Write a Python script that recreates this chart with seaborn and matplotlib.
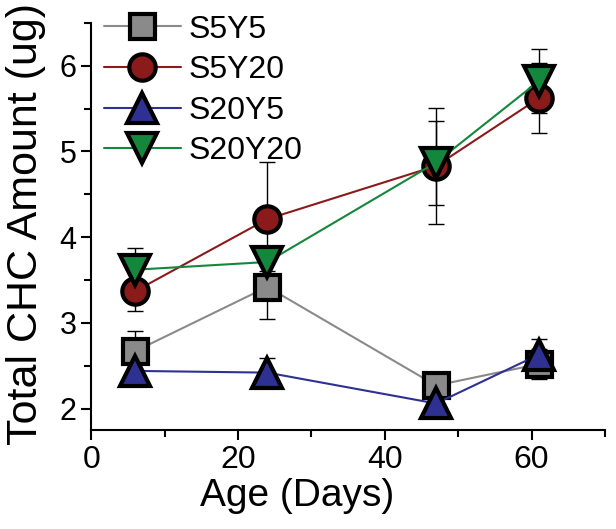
import matplotlib
matplotlib.use("Agg")
import matplotlib.pyplot as plt
from matplotlib.ticker import MultipleLocator
import seaborn as sns

days = [6, 24, 47, 61]
groups = ["S5Y5", "S5Y20", "S20Y5", "S20Y20"]
s5y5 = [2.67, 3.42, 2.27, 2.52]
s5y20 = [3.37, 4.21, 4.83, 5.62]
s20y5 = [2.44, 2.42, 2.06, 2.63]
s20y20 = [3.62, 3.71, 4.87, 5.82]
s5y5_err = [0.24, 0.37, 0.05, 0.18]
s5y20_err = [0.23, 0.67, 0.68, 0.41]
s20y5_err = [0.16, 0.17, 0.10, 0.18]
s20y20_err = [0.25, 0.10, 0.49, 0.37]

series = [s5y5, s5y20, s20y5, s20y20]
errors = [s5y5_err, s5y20_err, s20y5_err, s20y20_err]
colors = ["#8a8a8a", "#8b1a1a", "#2e3192", "#14873c"]
markers = ["s", "o", "^", "v"]
sizes = [18, 19, 21, 21]

sns.set_style("ticks")
plt.rcParams["font.family"] = ["Liberation Sans", "DejaVu Sans"]
plt.rcParams["text.color"] = "black"
plt.rcParams["axes.labelcolor"] = "black"

fig = plt.figure(figsize=(6.16, 5.29), dpi=100)
ax = fig.add_axes([0.148, 0.187, 0.834, 0.770])

for vals, errs in zip(series, errors):
    ax.errorbar(days, vals, yerr=errs, fmt="none", ecolor="black", elinewidth=1,
                capsize=6, capthick=1, zorder=2)

for name, vals, col, mk, ms in zip(groups, series, colors, markers, sizes):
    sns.lineplot(x=days, y=vals, ax=ax, color=col, marker=mk, markersize=ms,
                 markerfacecolor=col, markeredgecolor="black", markeredgewidth=3,
                 linewidth=1.5, label=name, zorder=3)

ax.set_xlim(0, 70)
ax.set_ylim(1.75, 6.5)
ax.xaxis.set_major_locator(MultipleLocator(20))
ax.xaxis.set_minor_locator(MultipleLocator(10))
ax.yaxis.set_major_locator(MultipleLocator(1))
ax.yaxis.set_minor_locator(MultipleLocator(0.5))
ax.tick_params(axis="both", which="both", direction="out", width=1.5, colors="black")
ax.tick_params(axis="both", which="major", length=7)
ax.tick_params(axis="both", which="minor", length=5)
ax.tick_params(axis="x", labelsize=23)
ax.tick_params(axis="y", labelsize=22)
for s in ["left", "bottom"]:
    ax.spines[s].set_linewidth(1.5)
    ax.spines[s].set_color("black")
sns.despine(ax=ax)

ax.set_xlabel("Age (Days)", fontsize=28)
ax.xaxis.set_label_coords(0.40, -0.118)
ax.set_ylabel("Total CHC Amount (ug)", fontsize=31)
ax.yaxis.set_label_coords(-0.088, 0.505)

ax.legend(loc="upper left", frameon=False, fontsize=23, handlelength=2.4,
          handletextpad=0.25, labelspacing=0.33, borderaxespad=0.0, borderpad=0.0,
          bbox_to_anchor=(0.025, 1.02))

fig.savefig("out.png", dpi=100)
